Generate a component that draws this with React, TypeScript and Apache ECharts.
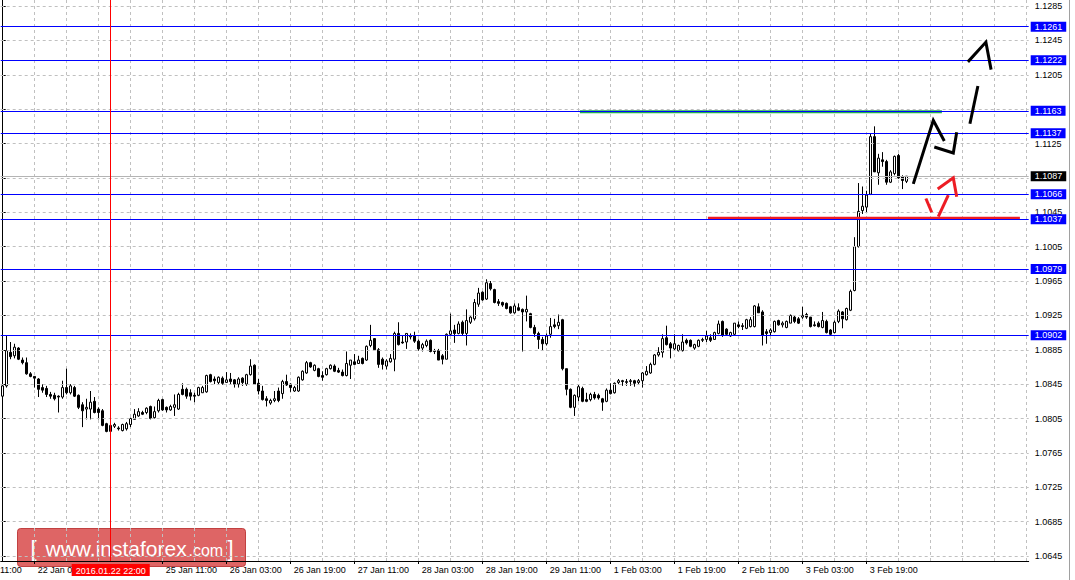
import React, { useEffect, useRef } from 'react';
import * as echarts from 'echarts';

// ---------- data ----------
const FIRST_BAR_UTC = Date.UTC(2016, 0, 21, 19); // 2016.01.21 19:00, H1 bars
const SLOT_COUNT = 257; // bars + empty space on the right
const LABEL_ANCHOR = 40; // index of 2016.01.25 11:00
const LABEL_STEP = 16;
const GRID_STEP = 8;
const HIDDEN_TIME_LABELS = ['2016.01.22 19:00'];
const MONTHS = ['Jan', 'Feb', 'Mar', 'Apr', 'May', 'Jun', 'Jul', 'Aug', 'Sep', 'Oct', 'Nov', 'Dec'];

const OPEN = [
  1.0831, 1.0843, 1.0882, 1.0878, 1.0887, 1.0873, 1.0870, 1.0857, 1.0854, 1.0851,
  1.0841, 1.0840, 1.0833, 1.0832, 1.0831, 1.0830, 1.0841, 1.0835, 1.0841, 1.0832,
  1.0821, 1.0816, 1.0816, 1.0825, 1.0816, 1.0814, 1.0799, 1.0790, 1.0796, 1.0794,
  1.0791, 1.0793, 1.0798, 1.0804, 1.0808, 1.0812, 1.0812, 1.0819, 1.0806, 1.0814,
  1.0827, 1.0818, 1.0815, 1.0818, 1.0816, 1.0839, 1.0839, 1.0835, 1.0832, 1.0832,
  1.0835, 1.0836, 1.0856, 1.0851, 1.0847, 1.0852, 1.0847, 1.0851, 1.0850, 1.0845,
  1.0852, 1.0845, 1.0856, 1.0867, 1.0846, 1.0837, 1.0828, 1.0823, 1.0826, 1.0837,
  1.0834, 1.0848, 1.0845, 1.0837, 1.0837, 1.0850, 1.0858, 1.0870, 1.0861, 1.0863,
  1.0855, 1.0856, 1.0863, 1.0866, 1.0861, 1.0859, 1.0855, 1.0867, 1.0871, 1.0869,
  1.0875, 1.0873, 1.0890, 1.0898, 1.0885, 1.0874, 1.0866, 1.0871, 1.0874, 1.0904,
  1.0894, 1.0894, 1.0900, 1.0901, 1.0895, 1.0887, 1.0890, 1.0896, 1.0884, 1.0884,
  1.0878, 1.0874, 1.0903, 1.0908, 1.0904, 1.0917, 1.0904, 1.0917, 1.0921, 1.0938,
  1.0952, 1.0944, 1.0962, 1.0955, 1.0941, 1.0940, 1.0939, 1.0935, 1.0928, 1.0934,
  1.0932, 1.0929, 1.0927, 1.0911, 1.0904, 1.0897, 1.0892, 1.0903, 1.0914, 1.0913,
  1.0920, 1.0863, 1.0839, 1.0818, 1.0830, 1.0840, 1.0827, 1.0827, 1.0833, 1.0832,
  1.0828, 1.0825, 1.0838, 1.0835, 1.0847, 1.0849, 1.0847, 1.0848, 1.0849, 1.0847,
  1.0849, 1.0856, 1.0858, 1.0868, 1.0879, 1.0882, 1.0899, 1.0892, 1.0886, 1.0884,
  1.0884, 1.0896, 1.0896, 1.0887, 1.0889, 1.0896, 1.0897, 1.0899, 1.0897, 1.0904,
  1.0918, 1.0909, 1.0901, 1.0903, 1.0914, 1.0913, 1.0910, 1.0912, 1.0912, 1.0935,
  1.0929, 1.0906, 1.0905, 1.0906, 1.0919, 1.0914, 1.0911, 1.0916, 1.0923, 1.0921,
  1.0923, 1.0926, 1.0923, 1.0914, 1.0916, 1.0911, 1.0918, 1.0908, 1.0905, 1.0918,
  1.0929, 1.0920, 1.0931, 1.0954, 1.1005, 1.1047, 1.1051, 1.1066, 1.1133, 1.1091,
  1.1106, 1.1104, 1.1080, 1.1090, 1.1111, 1.1086, 1.1081,
];
const HIGH = [
  1.0849, 1.0901, 1.0894, 1.0892, 1.0888, 1.0876, 1.0876, 1.0859, 1.0854, 1.0852,
  1.0845, 1.0843, 1.0836, 1.0835, 1.0832, 1.0849, 1.0863, 1.0845, 1.0843, 1.0833,
  1.0824, 1.0828, 1.0837, 1.0830, 1.0818, 1.0816, 1.0800, 1.0803, 1.0800, 1.0796,
  1.0799, 1.0801, 1.0806, 1.0816, 1.0817, 1.0814, 1.0818, 1.0820, 1.0819, 1.0828,
  1.0828, 1.0819, 1.0821, 1.0833, 1.0835, 1.0846, 1.0841, 1.0839, 1.0835, 1.0842,
  1.0843, 1.0856, 1.0857, 1.0854, 1.0854, 1.0854, 1.0859, 1.0858, 1.0851, 1.0853,
  1.0853, 1.0857, 1.0874, 1.0868, 1.0851, 1.0843, 1.0831, 1.0828, 1.0837, 1.0841,
  1.0850, 1.0856, 1.0846, 1.0843, 1.0854, 1.0861, 1.0872, 1.0871, 1.0868, 1.0864,
  1.0860, 1.0864, 1.0868, 1.0868, 1.0864, 1.0862, 1.0883, 1.0873, 1.0880, 1.0878,
  1.0876, 1.0890, 1.0914, 1.0898, 1.0887, 1.0876, 1.0874, 1.0880, 1.0906, 1.0917,
  1.0902, 1.0904, 1.0904, 1.0906, 1.0897, 1.0893, 1.0897, 1.0897, 1.0886, 1.0886,
  1.0880, 1.0904, 1.0927, 1.0914, 1.0918, 1.0919, 1.0932, 1.0924, 1.0944, 1.0957,
  1.0953, 1.0967, 1.0965, 1.0956, 1.0944, 1.0941, 1.0940, 1.0936, 1.0939, 1.0939,
  1.0933, 1.0948, 1.0928, 1.0914, 1.0906, 1.0900, 1.0904, 1.0922, 1.0921, 1.0926,
  1.0921, 1.0863, 1.0840, 1.0833, 1.0844, 1.0842, 1.0835, 1.0835, 1.0836, 1.0834,
  1.0829, 1.0840, 1.0846, 1.0847, 1.0851, 1.0850, 1.0851, 1.0851, 1.0850, 1.0851,
  1.0859, 1.0866, 1.0870, 1.0880, 1.0888, 1.0903, 1.0913, 1.0894, 1.0903, 1.0891,
  1.0903, 1.0898, 1.0897, 1.0892, 1.0897, 1.0899, 1.0907, 1.0903, 1.0906, 1.0919,
  1.0919, 1.0910, 1.0906, 1.0916, 1.0918, 1.0916, 1.0921, 1.0923, 1.0937, 1.0939,
  1.0931, 1.0909, 1.0910, 1.0919, 1.0920, 1.0918, 1.0919, 1.0926, 1.0925, 1.0923,
  1.0935, 1.0928, 1.0923, 1.0918, 1.0918, 1.0929, 1.0920, 1.0909, 1.0919, 1.0932,
  1.0930, 1.0934, 1.0955, 1.1016, 1.1079, 1.1075, 1.1070, 1.1137, 1.1145, 1.1113,
  1.1115, 1.1106, 1.1094, 1.1111, 1.1113, 1.1088, 1.1087,
];
const LOW = [
  1.0826, 1.0841, 1.0874, 1.0875, 1.0873, 1.0868, 1.0856, 1.0853, 1.0841, 1.0830,
  1.0835, 1.0830, 1.0828, 1.0826, 1.0812, 1.0828, 1.0833, 1.0833, 1.0830, 1.0816,
  1.0795, 1.0804, 1.0804, 1.0811, 1.0804, 1.0796, 1.0789, 1.0787, 1.0794, 1.0791,
  1.0790, 1.0791, 1.0795, 1.0804, 1.0807, 1.0809, 1.0810, 1.0804, 1.0805, 1.0812,
  1.0814, 1.0812, 1.0814, 1.0808, 1.0815, 1.0832, 1.0828, 1.0826, 1.0824, 1.0831,
  1.0835, 1.0835, 1.0847, 1.0845, 1.0845, 1.0844, 1.0847, 1.0845, 1.0841, 1.0841,
  1.0843, 1.0843, 1.0855, 1.0844, 1.0833, 1.0826, 1.0819, 1.0821, 1.0824, 1.0824,
  1.0828, 1.0843, 1.0836, 1.0836, 1.0836, 1.0849, 1.0857, 1.0864, 1.0860, 1.0853,
  1.0849, 1.0855, 1.0862, 1.0859, 1.0858, 1.0854, 1.0854, 1.0851, 1.0867, 1.0869,
  1.0868, 1.0872, 1.0888, 1.0884, 1.0864, 1.0862, 1.0862, 1.0870, 1.0860, 1.0890,
  1.0892, 1.0886, 1.0897, 1.0893, 1.0884, 1.0883, 1.0888, 1.0882, 1.0880, 1.0873,
  1.0868, 1.0874, 1.0901, 1.0893, 1.0903, 1.0901, 1.0890, 1.0915, 1.0919, 1.0935,
  1.0942, 1.0943, 1.0954, 1.0939, 1.0936, 1.0935, 1.0932, 1.0927, 1.0927, 1.0930,
  1.0883, 1.0918, 1.0910, 1.0900, 1.0886, 1.0884, 1.0890, 1.0899, 1.0910, 1.0909,
  1.0861, 1.0832, 1.0817, 1.0808, 1.0825, 1.0824, 1.0824, 1.0825, 1.0827, 1.0827,
  1.0814, 1.0824, 1.0833, 1.0834, 1.0845, 1.0843, 1.0843, 1.0843, 1.0842, 1.0845,
  1.0841, 1.0855, 1.0857, 1.0867, 1.0877, 1.0876, 1.0890, 1.0875, 1.0884, 1.0883,
  1.0883, 1.0891, 1.0888, 1.0885, 1.0888, 1.0894, 1.0894, 1.0894, 1.0897, 1.0903,
  1.0900, 1.0901, 1.0900, 1.0902, 1.0910, 1.0908, 1.0909, 1.0911, 1.0911, 1.0928,
  1.0890, 1.0892, 1.0902, 1.0905, 1.0913, 1.0911, 1.0910, 1.0916, 1.0916, 1.0915,
  1.0921, 1.0921, 1.0911, 1.0912, 1.0911, 1.0910, 1.0904, 1.0901, 1.0904, 1.0916,
  1.0910, 1.0919, 1.0930, 1.0953, 1.1004, 1.1043, 1.1044, 1.1065, 1.1092, 1.1077,
  1.1098, 1.1077, 1.1079, 1.1088, 1.1084, 1.1072, 1.1079,
];
const CLOSE = [
  1.0843, 1.0884, 1.0877, 1.0888, 1.0874, 1.0870, 1.0857, 1.0854, 1.0852, 1.0839,
  1.0838, 1.0833, 1.0831, 1.0828, 1.0830, 1.0841, 1.0835, 1.0843, 1.0831, 1.0818,
  1.0814, 1.0818, 1.0824, 1.0812, 1.0812, 1.0797, 1.0790, 1.0797, 1.0798, 1.0793,
  1.0798, 1.0799, 1.0805, 1.0810, 1.0813, 1.0810, 1.0817, 1.0805, 1.0813, 1.0826,
  1.0815, 1.0815, 1.0819, 1.0821, 1.0833, 1.0833, 1.0831, 1.0831, 1.0831, 1.0841,
  1.0841, 1.0855, 1.0848, 1.0849, 1.0853, 1.0846, 1.0850, 1.0848, 1.0845, 1.0851,
  1.0847, 1.0856, 1.0866, 1.0845, 1.0837, 1.0827, 1.0826, 1.0826, 1.0828, 1.0826,
  1.0848, 1.0844, 1.0841, 1.0841, 1.0853, 1.0860, 1.0870, 1.0865, 1.0867, 1.0854,
  1.0853, 1.0863, 1.0867, 1.0860, 1.0859, 1.0855, 1.0869, 1.0873, 1.0868, 1.0873,
  1.0869, 1.0889, 1.0896, 1.0885, 1.0868, 1.0868, 1.0872, 1.0875, 1.0904, 1.0891,
  1.0893, 1.0904, 1.0901, 1.0895, 1.0886, 1.0891, 1.0895, 1.0883, 1.0883, 1.0873,
  1.0874, 1.0903, 1.0907, 1.0904, 1.0915, 1.0904, 1.0919, 1.0923, 1.0940, 1.0951,
  1.0943, 1.0963, 1.0956, 1.0940, 1.0939, 1.0937, 1.0933, 1.0928, 1.0936, 1.0931,
  1.0929, 1.0932, 1.0911, 1.0904, 1.0897, 1.0892, 1.0901, 1.0912, 1.0912, 1.0917,
  1.0863, 1.0839, 1.0818, 1.0832, 1.0842, 1.0825, 1.0825, 1.0833, 1.0829, 1.0829,
  1.0824, 1.0838, 1.0834, 1.0846, 1.0849, 1.0848, 1.0848, 1.0849, 1.0846, 1.0849,
  1.0858, 1.0860, 1.0868, 1.0879, 1.0882, 1.0898, 1.0891, 1.0887, 1.0892, 1.0890,
  1.0894, 1.0893, 1.0889, 1.0891, 1.0896, 1.0897, 1.0901, 1.0896, 1.0905, 1.0915,
  1.0902, 1.0903, 1.0905, 1.0916, 1.0912, 1.0912, 1.0920, 1.0920, 1.0936, 1.0928,
  1.0902, 1.0904, 1.0908, 1.0918, 1.0914, 1.0916, 1.0918, 1.0925, 1.0918, 1.0916,
  1.0925, 1.0923, 1.0912, 1.0913, 1.0912, 1.0919, 1.0905, 1.0903, 1.0917, 1.0930,
  1.0921, 1.0933, 1.0953, 1.1005, 1.1046, 1.1052, 1.1065, 1.1133, 1.1092, 1.1108,
  1.1104, 1.1080, 1.1092, 1.1110, 1.1085, 1.1082, 1.1087,
];

const Y_TICKS = [
  1.0645, 1.0685, 1.0725, 1.0765, 1.0805, 1.0845, 1.0885, 1.0925, 1.0965,
  1.1005, 1.1045, 1.1085, 1.1125, 1.1165, 1.1205, 1.1245, 1.1285,
];
const Y_LABELS_COVERED = [1.1085, 1.1165];
const Y_MIN = 1.06392;
const Y_MAX = 1.1292;

const LEVELS = [1.1261, 1.1222, 1.1163, 1.1137, 1.1066, 1.1037, 1.0979, 1.0902];
const CURRENT_PRICE = 1.1087;
const RED_LINE_TIME = '2016.01.22 22:00';

// hand-drawn annotations, in [bar index, price]
const GREEN_TARGET = [[144.3, 1.1162], [234.8, 1.1162]];
const RED_SUPPORT = [[176.3, 1.1038], [254.3, 1.1038]];
const BLACK_STROKES = [
  [[227.65, 1.1078], [232.65, 1.1152], [235.4, 1.1128]],
  [[232.9, 1.1121], [237.65, 1.1114], [238.5, 1.1138]],
  [[241.8, 1.1148], [243.8, 1.1192]],
  [[241.3, 1.1220], [245.8, 1.1243], [247.1, 1.1211]],
];
const RED_STROKES = [
  [[230.8, 1.1061], [232.25, 1.1045]],
  [[233.9, 1.1040], [236.4, 1.1065]],
  [[233.75, 1.1072], [237.65, 1.1085], [238.5, 1.1063]],
];

// ---------- helpers ----------
const pad = (n: number) => String(n).padStart(2, '0');
function buildTimes(): string[] {
  const out: string[] = [];
  let t = FIRST_BAR_UTC;
  while (out.length < SLOT_COUNT) {
    const d = new Date(t);
    const dow = d.getUTCDay();
    if (dow !== 0 && dow !== 6) {
      out.push(`${d.getUTCFullYear()}.${pad(d.getUTCMonth() + 1)}.${pad(d.getUTCDate())} ${pad(d.getUTCHours())}:00`);
    }
    t += 3600000;
  }
  return out;
}
const TIMES = buildTimes();
const shortTime = (v: string) => {
  const [date, time] = v.split(' ');
  const [, m, d] = date.split('.');
  return `${Number(d)} ${MONTHS[Number(m) - 1]} ${time}`;
};

const FONT = '"Liberation Sans", Arial, sans-serif';
const BAR_COUNT = OPEN.length;
const showTimeLabel = (i: number) =>
  i < BAR_COUNT && (i - LABEL_ANCHOR) % LABEL_STEP === 0 && !HIDDEN_TIME_LABELS.includes(TIMES[i]);
const showGrid = (i: number) => (i - LABEL_ANCHOR) % GRID_STEP === 0;

function buildOption() {
  const candles = OPEN.map((o, i) => [o, CLOSE[i], LOW[i], HIGH[i]]);
  const boxLabel = (bg: string, text: string) => ({
    show: true,
    position: 'end',
    formatter: text,
    color: '#ffffff',
    backgroundColor: bg,
    padding: [1, 4, 0, 4],
    fontSize: 9,
    lineHeight: 9,
    fontFamily: FONT,
    distance: 2,
  });
  const markData: any[] = LEVELS.map((v) => ({
    yAxis: v,
    lineStyle: { color: '#0000ff', width: 1, type: 'solid' },
    label: boxLabel('#0000ff', v.toFixed(4)),
  }));
  markData.push({
    yAxis: CURRENT_PRICE,
    lineStyle: { color: '#b4b4b4', width: 1, type: 'solid' },
    label: boxLabel('#000000', CURRENT_PRICE.toFixed(4)),
  });
  markData.push({
    xAxis: RED_LINE_TIME,
    lineStyle: { color: '#ff0000', width: 1, type: 'solid' },
    label: {
      show: true,
      position: 'start',
      formatter: RED_LINE_TIME,
      color: '#ffffff',
      backgroundColor: '#ff0000',
      padding: [2, 4, 1, 4],
      fontSize: 9,
      fontFamily: FONT,
      distance: 3,
    },
  });

  const stroke = (data: number[][], color: string, z = 5) => ({
    type: 'line',
    xAxisIndex: 1,
    yAxisIndex: 0,
    data,
    symbol: 'none',
    silent: true,
    z,
    lineStyle: { color, width: 3, cap: 'butt', join: 'miter' },
  });

  return {
    animation: false,
    backgroundColor: '#ffffff',
    grid: { left: 0.7, right: 46.3, top: 0, bottom: 19, containLabel: false },
    xAxis: [
      {
        type: 'category',
        data: TIMES,
        boundaryGap: true,
        axisLine: { show: true, onZero: false, lineStyle: { color: '#000000', width: 1 } },
        axisTick: { show: true, interval: showTimeLabel, alignWithLabel: true, length: 3, lineStyle: { color: '#000000' } },
        axisLabel: {
          show: true,
          interval: showTimeLabel,
          formatter: shortTime,
          align: 'left',
          margin: 4,
          padding: [0, 0, 0, 3],
          color: '#000000',
          fontSize: 9,
          fontFamily: FONT,
        },
        splitLine: {
          show: true,
          interval: showGrid,
          alignWithLabel: true,
          lineStyle: { color: '#c0c0c0', type: [3, 3], width: 1 },
        },
      },
      { type: 'value', min: -0.5, max: SLOT_COUNT - 0.5, show: false },
    ],
    yAxis: {
      type: 'value',
      position: 'right',
      min: Y_MIN,
      max: Y_MAX,
      axisLine: { show: true, lineStyle: { color: '#000000', width: 1 } },
      axisTick: { show: true, length: 3, customValues: Y_TICKS, lineStyle: { color: '#000000' } },
      axisLabel: {
        show: true,
        customValues: Y_TICKS.filter((v) => !Y_LABELS_COVERED.includes(v)),
        formatter: (v: number) => v.toFixed(4),
        margin: 6,
        color: '#000000',
        fontSize: 9,
        fontFamily: FONT,
      },
      splitLine: { show: false },
    },
    series: [
      {
        // horizontal price grid, on the price scale
        type: 'line',
        xAxisIndex: 1,
        yAxisIndex: 0,
        data: [],
        silent: true,
        z: 0,
        markLine: {
          symbol: ['none', 'none'],
          silent: true,
          animation: false,
          precision: 4,
          label: { show: false },
          lineStyle: { color: '#c0c0c0', type: [3, 3], width: 1 },
          data: Y_TICKS.map((v) => ({ yAxis: v })),
        },
      },
      {
        type: 'candlestick',
        xAxisIndex: 0,
        yAxisIndex: 0,
        data: candles,
        barWidth: 3,
        silent: true,
        z: 2,
        itemStyle: { color: '#ffffff', color0: '#000000', borderColor: '#000000', borderColor0: '#000000', borderWidth: 1 },
        markLine: {
          symbol: ['none', 'none'],
          silent: true,
          animation: false,
          precision: 4,
          lineStyle: { color: '#0000ff', width: 1, type: 'solid' },
          data: markData,
        },
      },
      stroke(GREEN_TARGET, '#22b14c', 4),
      stroke(RED_SUPPORT, '#ed1c24', 4),
      ...BLACK_STROKES.map((s) => stroke(s, '#000000')),
      ...RED_STROKES.map((s) => stroke(s, '#ed1c24')),
    ],
    graphic: [
      {
        type: 'text',
        left: -29.5,
        top: 565,
        style: { text: shortTime('2016.01.21 11:00'), fill: '#000000', font: `9px ${FONT}` },
        silent: true,
      },
      {
        type: 'line',
        shape: { x1: 1069.5, y1: 0, x2: 1069.5, y2: 580 },
        style: { stroke: '#a0a0a0', lineWidth: 1 },
        silent: true,
      },
      {
        type: 'group',
        left: 17,
        top: 528,
        silent: true,
        children: [
          {
            type: 'rect',
            shape: { x: 0, y: 0, width: 228, height: 38, r: 3 },
            style: { fill: 'rgba(214,62,62,0.8)', stroke: 'rgba(185,45,45,0.85)', lineWidth: 1 },
          },
          {
            type: 'text',
            x: 13,
            y: 19.5,
            style: { text: '[', fill: '#ffffff', font: `22px ${FONT}`, verticalAlign: 'middle' },
          },
          {
            type: 'text',
            x: 28,
            y: 19.5,
            style: { text: 'www.instaforex', fill: '#ffffff', font: `21px ${FONT}`, verticalAlign: 'middle' },
          },
          {
            type: 'text',
            x: 171,
            y: 21.5,
            style: { text: '.com', fill: '#ffffff', font: `16px ${FONT}`, verticalAlign: 'middle' },
          },
          {
            type: 'text',
            x: 210,
            y: 19.5,
            style: { text: ']', fill: '#ffffff', font: `22px ${FONT}`, verticalAlign: 'middle' },
          },
        ],
      },
    ],
  };
}

export default function App() {
  const ref = useRef<HTMLDivElement>(null);
  useEffect(() => {
    document.body.style.margin = '0';
    const chart = echarts.init(ref.current as HTMLDivElement, null, { renderer: 'svg' });
    chart.setOption(buildOption() as any);
    return () => chart.dispose();
  }, []);
  return <div ref={ref} style={{ width: 1075, height: 580 }} />;
}
